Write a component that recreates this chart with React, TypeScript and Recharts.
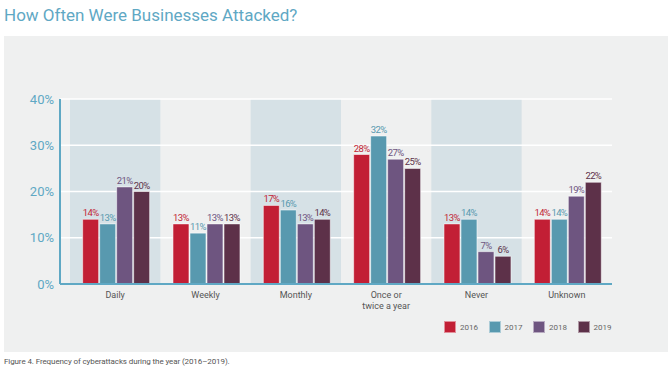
import {
  BarChart,
  Bar,
  XAxis,
  YAxis,
  CartesianGrid,
  ReferenceArea,
  LabelList,
} from 'recharts';

const categories = ['Daily', 'Weekly', 'Monthly', 'Once or\ntwice a year', 'Never', 'Unknown'];
const y2016 = [14, 13, 17, 28, 13, 14];
const y2017 = [13, 11, 16, 32, 14, 14];
const y2018 = [21, 13, 13, 27, 7, 19];
const y2019 = [20, 13, 14, 25, 6, 22];
const yTicks = [0, 10, 20, 30, 40];
const shadedCats = [categories[0], categories[2], categories[4]];

const series = [
  { key: 'y2016', name: '2016', color: '#c21f35' },
  { key: 'y2017', name: '2017', color: '#5899af' },
  { key: 'y2018', name: '2018', color: '#6e5580' },
  { key: 'y2019', name: '2019', color: '#5d3149' },
];

const data = categories.map((name, i) => ({
  name,
  y2016: y2016[i],
  y2017: y2017[i],
  y2018: y2018[i],
  y2019: y2019[i],
}));

const TEAL = '#5fa8c4';

function XTick({ x, y, payload }: any) {
  const lines = String(payload.value).split('\n');
  return (
    <text x={x} y={y + 6} textAnchor="middle" fill="#555" fontSize={9} fontFamily="Roboto">
      {lines.map((l, i) => (
        <tspan key={i} x={x} dy={i === 0 ? 0 : 10.5}>
          {l}
        </tspan>
      ))}
    </text>
  );
}

function ChartLegend() {
  return (
    <div style={{ position: 'absolute', left: 444, top: 321, display: 'flex' }}>
      {series.map((s) => (
        <div key={s.key} style={{ display: 'flex', alignItems: 'center', width: 44.5 }}>
          <div style={{ width: 12, height: 12, background: s.color, border: '1px solid rgba(255,255,255,0.5)', boxSizing: 'border-box' }} />
          <span style={{ marginLeft: 4, fontSize: 8, color: '#666', fontFamily: 'Roboto' }}>{s.name}</span>
        </div>
      ))}
    </div>
  );
}

export default function App() {
  return (
    <div style={{ position: 'absolute', left: 0, top: 0, width: 668, height: 376, background: '#fff', fontFamily: 'Roboto' }}>
      <div style={{ position: 'absolute', left: 4, top: 5, fontSize: 17, color: TEAL, letterSpacing: 0 }}>
        How Often Were Businesses Attacked?
      </div>
      <div style={{ position: 'absolute', left: 4, top: 36, width: 664, height: 316, background: '#eff0f0' }} />
      <div style={{ position: 'absolute', left: 0, top: 0 }}>
        <BarChart
          width={668}
          height={376}
          data={data}
          margin={{ top: 99, right: 56, left: 0, bottom: 0 }}
          barCategoryGap="14%"
          barGap={1}
        >
          {shadedCats.map((c) => (
            <ReferenceArea
              key={c}
              x1={c}
              x2={c}
              y1={0}
              y2={40}
              fill="#d6e1e6"
              fillOpacity={1}
              stroke="none"
              zIndex={-150}
              ifOverflow="visible"
            />
          ))}
          <CartesianGrid vertical={false} stroke="#ffffff" strokeWidth={1.5} />
          <XAxis
            dataKey="name"
            height={92}
            padding={{ left: 10, right: 0 }}
            tickLine={false}
            axisLine={{ stroke: TEAL, strokeWidth: 2 }}
            tick={<XTick />}
            interval={0}
          />
          <YAxis
            width={60}
            domain={[0, 40]}
            ticks={yTicks}
            tickLine={false}
            tickMargin={0}
            axisLine={{ stroke: TEAL, strokeWidth: 2 }}
            tick={{ fill: TEAL, fontSize: 13, fontFamily: 'Roboto' }}
            tickFormatter={(v) => `${v}%`}
          />
          {series.map((s) => (
            <Bar
              key={s.key}
              dataKey={s.key}
              name={s.name}
              fill={s.color}
              stroke="#ffffff"
              strokeOpacity={0.55}
              strokeWidth={1}
              isAnimationActive={false}
            >
              <LabelList
                dataKey={s.key}
                position="top"
                offset={3}
                fill={s.color}
                fontSize={9.5}
                fontFamily="Roboto"
                letterSpacing={-0.6}
                formatter={(v: any) => `${v}%`}
              />
            </Bar>
          ))}
        </BarChart>
      </div>
      <ChartLegend />
      <div style={{ position: 'absolute', left: 4, top: 357, fontSize: 8, color: '#555', letterSpacing: -0.1 }}>
        Figure 4. Frequency of cyberattacks during the year (2016–2019).
      </div>
    </div>
  );
}
